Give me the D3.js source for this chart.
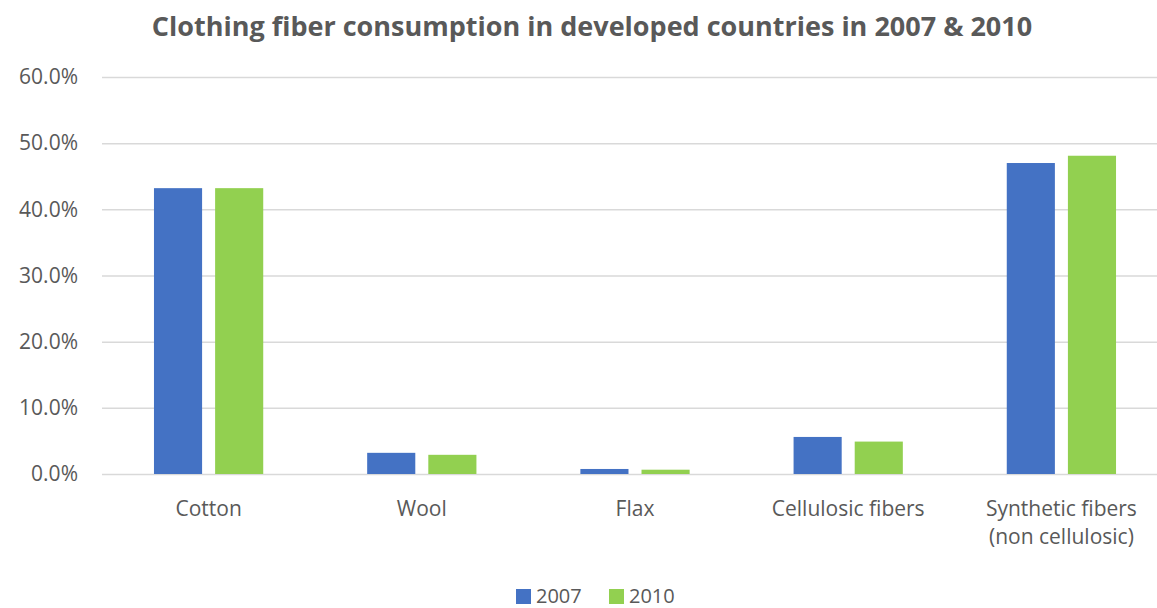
<!DOCTYPE html>
<html>
<head>
<meta charset="utf-8">
<script src="https://cdn.jsdelivr.net/npm/d3@7"></script>
<style>
  html, body { margin: 0; padding: 0; background: #fff; }
  svg { display: block; }
  text { font-family: "Open Sans", Lato, sans-serif; fill: #595959; }
</style>
</head>
<body>
<svg id="chart" width="1157" height="608"></svg>
<script>
// Fiber categories and share of consumption (%)
const categories = ["Cotton", "Wool", "Flax", "Cellulosic fibers", "Synthetic fibers\n(non cellulosic)"];
const seriesNames = ["2007", "2010"];
const values2007 = [43.2, 3.2, 0.76, 5.6, 47.0];
const values2010 = [43.2, 2.9, 0.65, 4.9, 48.1];
const yTicks = [0, 10, 20, 30, 40, 50, 60];
const colors = ["#4472C4", "#92D050"];

const svg = d3.select("#chart");
const width = 1157, height = 608;
const margin = { left: 102, top: 77, bottom: 134 };
// The category bands run slightly past the right edge of the frame
const plotRight = 1168;

const x = d3.scaleBand().domain(categories).range([margin.left, plotRight]).padding(0);
const xInner = d3.scaleBand().domain(seriesNames).range([0, x.bandwidth()]).paddingInner(0.213).paddingOuter(0.85);
const y = d3.scaleLinear().domain([0, 60]).range([height - margin.bottom, margin.top]);

// Title
svg.append("text")
  .attr("x", 592).attr("y", 36)
  .attr("text-anchor", "middle")
  .style("font-size", "27px").style("font-weight", "bold")
  .text("Clothing fiber consumption in developed countries in 2007 & 2010");

// Gridlines and y labels
const yAxis = d3.axisLeft(y).tickValues(yTicks)
  .tickSize(-(width - margin.left))
  .tickPadding(24)
  .tickFormat(d => d.toFixed(1) + "%");
const gy = svg.append("g").attr("transform", `translate(${margin.left},0)`).call(yAxis);
gy.select(".domain").remove();
gy.selectAll(".tick line").attr("stroke", "#D9D9D9").attr("stroke-width", 1.5);
gy.selectAll(".tick text").style("font-size", "21px").attr("fill", "#595959");

// Bars
const data = categories.map((c, i) => ({ cat: c, vals: [values2007[i], values2010[i]] }));
const groups = svg.append("g").selectAll("g").data(data).join("g")
  .attr("transform", d => `translate(${x(d.cat)},0)`);
groups.selectAll("rect")
  .data(d => d.vals.map((v, j) => ({ key: seriesNames[j], v, j })))
  .join("rect")
  .attr("x", d => xInner(d.key))
  .attr("width", xInner.bandwidth())
  .attr("y", d => y(d.v))
  .attr("height", d => y(0) - y(d.v))
  .attr("fill", d => colors[d.j]);

// Category labels (multi-line)
const xl = svg.append("g");
categories.forEach(c => {
  const lines = c.split("\n");
  const cx = x(c) + x.bandwidth() / 2;
  const t = xl.append("text")
    .attr("x", cx)
    .attr("y", 516)
    .attr("text-anchor", "middle")
    .style("font-size", "21px");
  lines.forEach((ln, k) => {
    t.append("tspan").attr("x", cx).attr("dy", k === 0 ? 0 : 28).text(ln);
  });
});

// Legend
const legend = svg.append("g");
const legendX = [516, 609];
seriesNames.forEach((s, i) => {
  legend.append("rect").attr("x", legendX[i]).attr("y", 589).attr("width", 15).attr("height", 15).attr("fill", colors[i]);
  legend.append("text").attr("x", legendX[i] + 20).attr("y", 603).style("font-size", "20px").text(s);
});
</script>
</body>
</html>
